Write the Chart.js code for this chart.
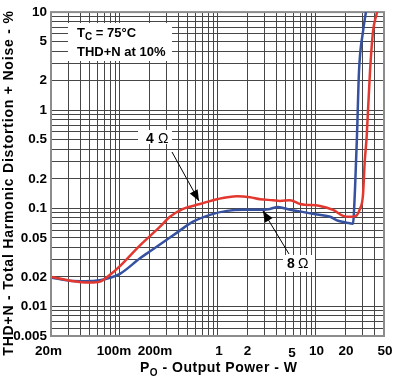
<!DOCTYPE html>
<html><head><meta charset="utf-8">
<script src="https://cdn.jsdelivr.net/npm/chart.js@4/dist/chart.umd.min.js"></script>
<style>html,body{margin:0;padding:0;background:#fff;}#wrap{width:397px;height:384px;}</style>
</head><body><div id="wrap"><canvas id="c" width="397" height="384"></canvas></div>
<script>
// Output power (W) and THD+N (%)
const power8 = [0.0205, 0.0313, 0.0445, 0.0632, 0.08, 0.101, 0.162, 0.205, 0.327, 0.386, 0.562, 0.838, 1.25, 1.82, 2.72, 3.43, 4.14, 5.49, 6.47, 9.43, 14.1, 17.0, 20.9, 24.1, 25.3, 26.5, 27.8, 30.5, 32.7];
const thd8   = [0.0196, 0.0183, 0.0181, 0.0185, 0.0196, 0.0215, 0.031, 0.0365, 0.0505, 0.0566, 0.0731, 0.0859, 0.0942, 0.0965, 0.0965, 0.0987, 0.1033, 0.0965, 0.0942, 0.0879, 0.082, 0.0748, 0.0714, 0.0698, 0.157, 0.545, 2.5, 6.3, 10];
const power4 = [0.0205, 0.0313, 0.05, 0.0632, 0.08, 0.101, 0.162, 0.259, 0.327, 0.445, 0.662, 0.989, 1.58, 2.15, 2.72, 3.68, 4.35, 5.49, 6.95, 11.1, 15.1, 19.1, 22.5, 25.9, 28.4, 30.5, 31.8, 33.3, 36.0, 38.6, 42.5];
const thd4   = [0.020, 0.0183, 0.0175, 0.0179, 0.021, 0.0258, 0.042, 0.065, 0.082, 0.0987, 0.1107, 0.124, 0.133, 0.130, 0.124, 0.121, 0.119, 0.121, 0.1107, 0.1057, 0.0965, 0.0839, 0.082, 0.0839, 0.0987, 0.136, 0.30, 0.545, 2.5, 6.3, 10];

const xTickValues = [0.02,0.03,0.04,0.05,0.06,0.07,0.08,0.09,0.1,0.2,0.3,0.4,0.5,0.6,0.7,0.8,0.9,1,2,3,4,5,6,7,8,9,10,20,30,40,50];
const xTickLabels = {0.02:'20m',0.1:'100m',0.2:'200m',1:'1',2:'2',5:'5',10:'10',20:'20',50:'50'};
const yTickValues = [0.005,0.006,0.007,0.008,0.009,0.01,0.02,0.03,0.04,0.05,0.06,0.07,0.08,0.09,0.1,0.2,0.3,0.4,0.5,0.6,0.7,0.8,0.9,1,2,3,4,5,6,7,8,9,10];
const yTickLabels = {0.005:'0.005',0.01:'0.01',0.02:'0.02',0.05:'0.05',0.1:'0.1',0.2:'0.2',0.5:'0.5',1:'1',2:'2',5:'5',10:'10'};

// styling: small nudges of x tick labels (px) as in the reference
const xLabelNudge = {'20m':[-2.5,0],'100m':[-5.5,0],'200m':[6,0],'1':[1.5,0],'2':[0.5,0],'5':[6,2],'10':[1,0],'20':[1,0],'50':[1,0]};

const FONT = '"Liberation Sans", Arial, sans-serif';

function arrow(ctx, x1, y1, x2, y2) {
  ctx.save();
  ctx.strokeStyle = '#000'; ctx.fillStyle = '#000'; ctx.lineWidth = 1;
  ctx.beginPath(); ctx.moveTo(x1, y1); ctx.lineTo(x2, y2); ctx.stroke();
  const a = Math.atan2(y2 - y1, x2 - x1), L = 11, W = 4.5;
  ctx.beginPath();
  ctx.moveTo(x2, y2);
  ctx.lineTo(x2 - L*Math.cos(a) + W*Math.sin(a), y2 - L*Math.sin(a) - W*Math.cos(a));
  ctx.lineTo(x2 - L*Math.cos(a) - W*Math.sin(a), y2 - L*Math.sin(a) + W*Math.cos(a));
  ctx.closePath(); ctx.fill();
  ctx.restore();
}

const deco = {
  id: 'deco',
  beforeDatasetsDraw(chart) {
    const {ctx, chartArea: a} = chart;
    ctx.save();
    ctx.strokeStyle = '#8c8c8c'; ctx.lineWidth = 2;
    ctx.strokeRect(a.left, a.top, a.right - a.left, a.bottom - a.top);
    ctx.restore();
  },
  afterDraw(chart) {
    const {ctx, chartArea: area} = chart;
    const xs = chart.scales.x;
    ctx.save();
    ctx.fillStyle = '#000';
    // x tick labels through the x scale
    ctx.font = 'bold 13.5px ' + FONT;
    ctx.textAlign = 'center'; ctx.textBaseline = 'alphabetic';
    for (const v of xTickValues) {
      const lab = xTickLabels[v];
      if (!lab) continue;
      const n = xLabelNudge[lab] || [0, 0];
      ctx.fillText(lab, xs.getPixelForValue(v) + n[0], area.bottom + 19 + n[1]);
    }
    ctx.textAlign = 'left';

    // info box
    ctx.fillStyle = '#fff';
    ctx.fillRect(68, 23, 104, 38);
    ctx.fillStyle = '#000';
    ctx.font = 'bold 13px ' + FONT;
    ctx.fillText('T', 77, 37);
    let w = ctx.measureText('T').width;
    ctx.font = 'bold 10px ' + FONT;
    ctx.fillText('C', 77 + w, 40);
    let w2 = ctx.measureText('C').width;
    ctx.font = 'bold 13px ' + FONT;
    ctx.fillText(' = 75°C', 77 + w + w2, 37);
    ctx.fillText('THD+N at 10%', 77, 56);

    // 4 ohm label
    ctx.fillStyle = '#fff';
    ctx.fillRect(138, 130, 34, 14);
    ctx.fillStyle = '#000';
    ctx.font = 'bold 14px ' + FONT;
    ctx.fillText('4', 146, 143);
    ctx.font = '14px ' + FONT;
    ctx.fillText('\u03A9', 158, 143);
    arrow(ctx, 172, 152, 199, 201);

    // 8 ohm label
    ctx.fillStyle = '#fff';
    ctx.fillRect(283, 255, 32, 17);
    ctx.fillStyle = '#000';
    ctx.font = 'bold 14px ' + FONT;
    ctx.fillText('8', 287, 268);
    ctx.font = '14px ' + FONT;
    ctx.fillText('\u03A9', 298, 268);
    arrow(ctx, 289, 254, 263, 211);

    // x axis title
    ctx.font = 'bold 14px ' + FONT;
    ctx.letterSpacing = '0.5px';
    let x = 140, yb = 372;
    ctx.fillText('P', x, yb); x += ctx.measureText('P').width;
    ctx.font = 'bold 10px ' + FONT;
    ctx.fillText('O', x, yb + 4); x += ctx.measureText('O').width;
    ctx.font = 'bold 14px ' + FONT;
    ctx.fillText(' - Output Power - W', x, yb);

    // y axis title
    ctx.letterSpacing = '0.8px';
    ctx.translate(13, 183);
    ctx.rotate(-Math.PI / 2);
    ctx.textAlign = 'center';
    ctx.fillText('THD+N - Total Harmonic Distortion + Noise - %', 0, 0);
    ctx.restore();
  }
};

new Chart(document.getElementById('c'), {
  type: 'scatter',
  data: {
    datasets: [
      { label: '4 Ω', data: power4.map((p, i) => ({x: p, y: thd4[i]})), showLine: true,
        borderColor: '#e2382f', borderWidth: 2.5, pointRadius: 0, cubicInterpolationMode: 'monotone' },
      { label: '8 Ω', data: power8.map((p, i) => ({x: p, y: thd8[i]})), showLine: true,
        borderColor: '#3551a0', borderWidth: 2.5, pointRadius: 0, cubicInterpolationMode: 'monotone' }
    ]
  },
  options: {
    responsive: false, animation: false, devicePixelRatio: 1,
    layout: { padding: { top: 7, right: 13, left: 0, bottom: 0 } },
    plugins: { legend: { display: false }, tooltip: { enabled: false } },
    scales: {
      x: {
        type: 'logarithmic', min: 0.02, max: 50,
        afterBuildTicks(s) { s.ticks = xTickValues.map(v => ({value: v})); },
        afterFit(s) { s.height = 48; },
        ticks: { display: false, autoSkip: false, maxRotation: 0 },
        grid: { color: '#464646', lineWidth: 1, drawTicks: false },
        border: { display: false }
      },
      y: {
        type: 'logarithmic', min: 0.005, max: 10,
        afterBuildTicks(s) { s.ticks = yTickValues.map(v => ({value: v})); },
        afterFit(s) { s.width = 51; },
        ticks: { autoSkip: false, padding: 4, color: '#000',
          font: { family: FONT, size: 13.5, weight: 'bold' },
          callback: v => yTickLabels[v] || '' },
        grid: { color: '#464646', lineWidth: 1, drawTicks: false },
        border: { display: false }
      }
    }
  },
  plugins: [deco]
});
</script>
</body></html>
